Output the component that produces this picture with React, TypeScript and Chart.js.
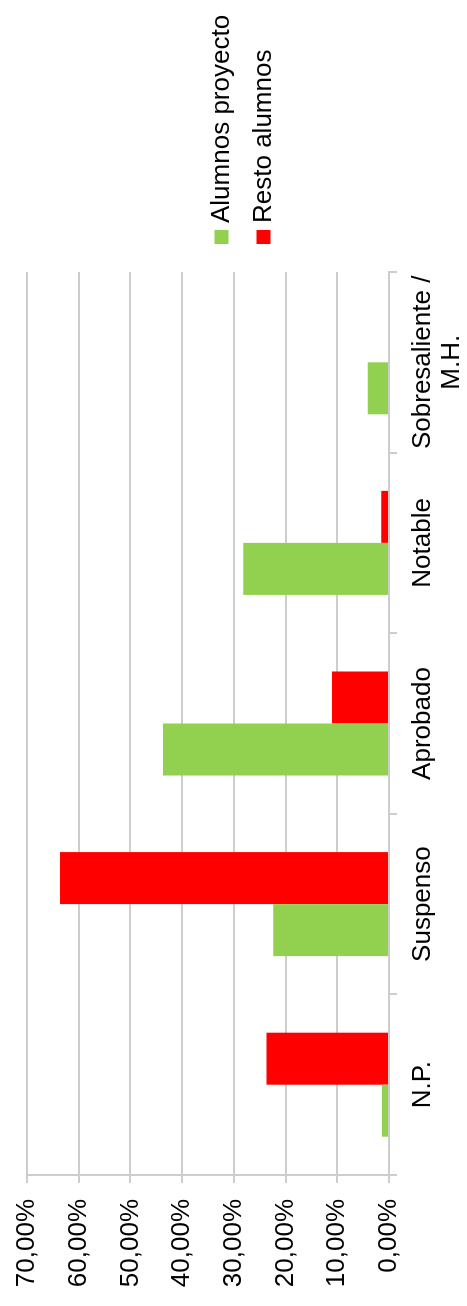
import React, { useEffect, useRef } from "react";
import { Chart, registerables } from "chart.js";

Chart.register(...registerables);

const categories: (string | string[])[] = [
  "N.P.",
  "Suspenso",
  "Aprobado",
  "Notable",
  ["Sobresaliente /", "M.H."],
];
const seriesNames = ["Alumnos proyecto", "Resto alumnos"];
const alumnosProyecto = [1.35, 22.4, 43.7, 28.2, 4.1];
const restoAlumnos = [23.7, 63.6, 11.0, 1.5, 0];
const seriesColors = ["#92D050", "#FF0000"];
const yMin = 0;
const yMax = 70;
const yStep = 10;

const FONT = '"Liberation Sans", Arial, sans-serif';
const GRID = "#cdcdcd";

const legendPlugin = {
  id: "sideLegend",
  afterDraw(chart: any) {
    const { ctx, chartArea } = chart;
    ctx.save();
    ctx.font = `26px ${FONT}`;
    ctx.textBaseline = "middle";
    ctx.textAlign = "left";
    const x = chartArea.right + 28;
    chart.data.datasets.forEach((ds: any, i: number) => {
      const yc = chart.height / 2 - 12 + i * 42;
      ctx.fillStyle = ds.backgroundColor;
      ctx.fillRect(x, yc - 7, 14, 14);
      ctx.fillStyle = "#000";
      ctx.fillText(ds.label, x + 21, yc);
    });
    ctx.restore();
  },
};

export default function App() {
  const ref = useRef<HTMLCanvasElement | null>(null);

  useEffect(() => {
    if (!ref.current) return;
    const chart = new Chart(ref.current, {
      type: "bar",
      data: {
        labels: categories,
        datasets: [
          {
            label: seriesNames[0],
            data: alumnosProyecto,
            backgroundColor: seriesColors[0],
            borderWidth: 0,
          },
          {
            label: seriesNames[1],
            data: restoAlumnos,
            backgroundColor: seriesColors[1],
            borderWidth: 0,
          },
        ],
      },
      options: {
        animation: false,
        responsive: false,
        maintainAspectRatio: false,
        datasets: {
          bar: { categoryPercentage: 0.576, barPercentage: 1 },
        },
        layout: { padding: { top: 27, right: 272, left: 0, bottom: 0 } },
        plugins: {
          legend: { display: false },
          tooltip: { enabled: false },
          title: { display: false },
        },
        scales: {
          x: {
            offset: true,
            grid: {
              offset: true,
              drawOnChartArea: false,
              drawTicks: true,
              tickLength: 8,
              color: GRID,
              lineWidth: 2,
            },
            border: { display: true, color: GRID, width: 2 },
            ticks: {
              color: "#000",
              padding: 11,
              maxRotation: 0,
              minRotation: 0,
              autoSkip: false,
              font: { family: FONT, size: 26, lineHeight: 1.12 },
            },
            afterFit: (s: any) => {
              s.height = 78;
              s.paddingLeft = 0;
              s.paddingRight = 0;
            },
          },
          y: {
            min: yMin,
            max: yMax,
            ticks: {
              stepSize: yStep,
              color: "#000",
              padding: 16,
              font: { family: FONT, size: 26 },
              callback: (v: any) =>
                Number(v).toFixed(2).replace(".", ",") + "%",
            },
            grid: {
              color: GRID,
              lineWidth: 2,
              tickLength: 8,
              drawTicks: true,
            },
            border: { display: true, color: GRID, width: 2 },
            afterFit: (s: any) => {
              s.width = 131;
              s.paddingTop = 0;
              s.paddingBottom = 0;
            },
          },
        },
      },
      plugins: [legendPlugin],
    });
    return () => chart.destroy();
  }, []);

  return (
    <div
      style={{
        position: "absolute",
        top: 0,
        left: 0,
        width: 467,
        height: 1306,
        overflow: "hidden",
        background: "#fff",
      }}
    >
      <div
        style={{
          position: "absolute",
          top: 0,
          left: 0,
          width: 1306,
          height: 467,
          transformOrigin: "0 0",
          transform: "translateY(1306px) rotate(-90deg)",
        }}
      >
        <canvas
          ref={ref}
          width={1306}
          height={467}
          style={{ display: "block", width: 1306, height: 467 }}
        />
      </div>
    </div>
  );
}
